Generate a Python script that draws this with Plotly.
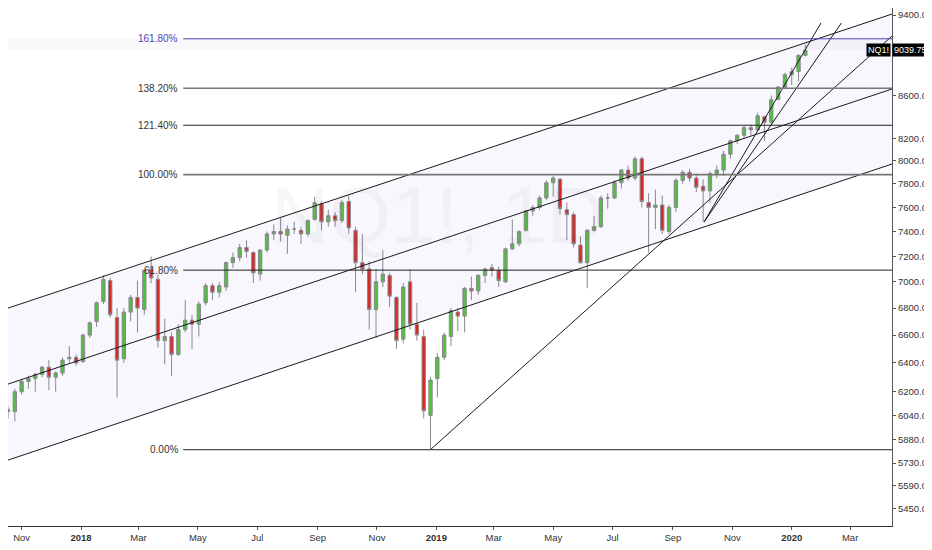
import numpy as np
import pandas as pd
import plotly.graph_objects as go

# NQ1! weekly bars, weeks starting Monday
week_start = pd.date_range("2017-10-09", "2020-01-13", freq="W-MON")

open_ = [6060, 6080, 6065, 6200, 6270, 6290, 6320, 6370, 6300, 6330, 6430, 6440,
         6410, 6600, 6700, 6850, 7010, 6730, 6430, 6770, 6880, 6790, 7100, 7020, 6560,
         6590, 6460, 6640, 6710, 6680, 6840, 6970, 6920, 6960, 7150, 7190, 7270, 7230,
         7060, 7250, 7380, 7400, 7370, 7420, 7410, 7380, 7500, 7630, 7480, 7530, 7490,
         7650, 7410, 7150, 7100, 6790, 7000, 7050, 6880, 6570, 7000, 6680, 6590, 6040, 6290,
         6440, 6590, 6770, 6740, 6950, 6930, 7050, 7110, 7090, 7000, 7260, 7300,
         7410, 7570, 7600, 7680, 7810, 7840, 7580, 7540, 7290, 7150, 7410, 7440, 7680,
         7680, 7810, 7920, 7850, 8020, 7640, 7600, 7620, 7400, 7600, 7830, 7900, 7850, 7780,
         7740, 7890, 7920, 8060, 8180, 8230, 8300, 8280, 8400, 8350, 8560, 8680, 8800,
         8830, 8990]
high = [6110, 6100, 6220, 6290, 6310, 6330, 6380, 6420, 6340, 6440, 6520, 6460,
        6610, 6700, 6850, 7050, 7030, 6800, 6800, 6900, 7010, 7100, 7200, 7060, 6720,
        6620, 6680, 6860, 6750, 6850, 6990, 6990, 7000, 7160, 7230, 7300, 7330, 7240,
        7260, 7400, 7460, 7510, 7450, 7480, 7440, 7500, 7690, 7650, 7580, 7560, 7660,
        7700, 7440, 7380, 7160, 7100, 7250, 7070, 6890, 6990, 7100, 6840, 6640, 6300, 6470,
        6620, 6800, 6800, 6960, 7040, 7060, 7110, 7140, 7120, 7270, 7500, 7410,
        7580, 7620, 7700, 7830, 7870, 7850, 7640, 7560, 7360, 7420, 7530, 7700, 7720,
        7830, 7930, 7960, 8040, 8040, 7720, 7750, 7700, 7620, 7850, 7920, 7930, 7880, 7840,
        7910, 7960, 8090, 8190, 8240, 8320, 8330, 8440, 8410, 8600, 8690, 8820, 8870,
        9000, 9095]
low = [6040, 6020, 6000, 6180, 6220, 6200, 6300, 6210, 6200, 6310, 6400, 6380,
       6400, 6580, 6660, 6830, 6730, 6160, 6400, 6700, 6620, 6750, 6990, 6510, 6390,
       6310, 6450, 6620, 6500, 6590, 6820, 6860, 6880, 6930, 7110, 7160, 7190, 6990,
       7010, 7230, 7330, 7320, 7220, 7380, 7300, 7360, 7490, 7410, 7440, 7440, 7470,
       7380, 6920, 7060, 6640, 6580, 6960, 6810, 6500, 6540, 6640, 6560, 6020, 5820, 6160,
       6420, 6520, 6630, 6620, 6860, 6900, 6990, 7040, 6960, 6990, 7250, 7280,
       7400, 7530, 7580, 7660, 7690, 7540, 7330, 7270, 7140, 6950, 7400, 7430, 7590,
       7670, 7760, 7830, 7830, 7600, 7230, 7420, 7380, 7380, 7560, 7800, 7820, 7730, 7480,
       7640, 7850, 7870, 8020, 8150, 8200, 8230, 8270, 8180, 8330, 8560, 8670, 8700,
       8740, 8980]
close = [6080, 6065, 6200, 6270, 6290, 6320, 6370, 6300, 6330, 6420, 6440, 6400,
         6600, 6690, 6840, 7020, 6750, 6420, 6770, 6880, 6800, 7090, 7030, 6560, 6590,
         6460, 6640, 6710, 6680, 6830, 6970, 6920, 6970, 7150, 7190, 7270, 7240, 7070,
         7250, 7380, 7400, 7380, 7420, 7420, 7380, 7490, 7640, 7480, 7530, 7490, 7640,
         7430, 7150, 7100, 6790, 7000, 7060, 6890, 6560, 6960, 6680, 6600, 6070, 6280, 6440,
         6600, 6780, 6740, 6950, 6930, 7050, 7100, 7090, 7010, 7260, 7300, 7400,
         7570, 7600, 7680, 7810, 7850, 7590, 7540, 7300, 7150, 7410, 7440, 7680, 7680,
         7810, 7920, 7850, 8020, 7650, 7600, 7620, 7410, 7600, 7830, 7900, 7850, 7770, 7740,
         7890, 7920, 8060, 8180, 8230, 8300, 8280, 8410, 8350, 8560, 8680, 8800, 8830,
         8990, 9039.75]
last_price = 9039.75

# fib retracement (Dec-2018 low -> 100% level)
fib_low = 5815
fib_high = 7880
fib_ratios = [0.0, 0.618, 1.0, 1.214, 1.382, 1.618]
fib_text = ["0.00%", "61.80%", "100.00%", "121.40%", "138.20%", "161.80%"]
fib_colors = ["#222222", "#222222", "#777777", "#222222", "#777777", "#4a45b8"]
fib_start = "2018-04-16"

# parallel channel
chan_dates = ["2017-10-09", "2020-04-13"]
chan_upper = [6778, 9410]
chan_mid = [6232, 8662]
chan_lower = [5730, 7973]

# trend lines
dec_low_dates = ["2018-12-26", "2020-04-13"]
dec_low_prices = [5816, 9184]
oct_low_dates_a = ["2019-10-03", "2020-01-31"]
oct_low_dates_b = ["2019-10-03", "2020-02-21"]
oct_low_prices = [7479, 9317]

price_ticks = [5450, 5590, 5730, 5880, 6040, 6200, 6400, 6600, 6800, 7000,
               7200, 7400, 7600, 7800, 8000, 8200, 8600, 9400]
month_ticks = pd.date_range("2017-11-01", "2020-03-01", freq="2MS")

# page has an 8px body margin, so the visible range starts a bit later
x_range = ["2017-10-18", "2020-04-13"]
y_range = [5345, 9473]

font = "Liberation Sans Narrow, Liberation Sans, sans-serif"
fig = go.Figure()

# channel background
fig.add_trace(go.Scatter(
    x=[chan_dates[0], chan_dates[1], chan_dates[1], chan_dates[0]],
    y=[chan_upper[0], chan_upper[1], chan_lower[1], chan_lower[0]],
    fill="toself", fillcolor="rgba(110,110,215,0.055)", line=dict(width=0),
    mode="lines", hoverinfo="skip", showlegend=False))

# light band under 161.8%
fib_vals = [fib_low + r * (fib_high - fib_low) for r in fib_ratios]
fig.add_trace(go.Scatter(
    x=[chan_dates[0], x_range[1], x_range[1], chan_dates[0]],
    y=[fib_vals[-1], fib_vals[-1], last_price, last_price],
    fill="toself", fillcolor="rgba(0,0,0,0.025)", line=dict(width=0),
    mode="lines", hoverinfo="skip", showlegend=False))

for ys in (chan_upper, chan_mid, chan_lower):
    fig.add_trace(go.Scatter(x=chan_dates, y=ys, mode="lines",
                             line=dict(color="#1a1a1a", width=1),
                             hoverinfo="skip", showlegend=False))

for xs, ys in ((dec_low_dates, dec_low_prices), (oct_low_dates_a, oct_low_prices),
               (oct_low_dates_b, oct_low_prices)):
    fig.add_trace(go.Scatter(x=xs, y=ys, mode="lines",
                             line=dict(color="#1a1a1a", width=1),
                             hoverinfo="skip", showlegend=False))

for v, txt, col in zip(fib_vals, fib_text, fib_colors):
    w = 1.6 if col == "#777777" else 1
    fig.add_trace(go.Scatter(x=[fib_start, x_range[1]], y=[v, v], mode="lines",
                             line=dict(color=col, width=w),
                             hoverinfo="skip", showlegend=False))
    fig.add_annotation(x=fib_start, y=np.log10(v), text=txt, showarrow=False,
                       xanchor="right", xshift=-3, yanchor="middle",
                       font=dict(family=font, size=10,
                                 color="#4a45b8" if txt == "161.80%" else "#333333"))

fig.add_trace(go.Candlestick(
    x=week_start + pd.Timedelta(days=2),
    open=open_, high=high, low=low, close=close,
    increasing=dict(fillcolor="#52c43a", line=dict(color="#8a8a8a", width=1)),
    decreasing=dict(fillcolor="#e0241c", line=dict(color="#8a8a8a", width=1)),
    whiskerwidth=0, showlegend=False))

# watermark
fig.add_annotation(x=0.486, y=0.60, xref="paper", yref="paper", text="NQ1!, 1D",
                   showarrow=False, font=dict(family=font, size=80,
                                              color="rgba(0,0,0,0.03)"))

# last price labels
fig.add_annotation(x=1, xref="paper", y=np.log10(last_price), text="9039.75",
                   showarrow=False, xanchor="left", bgcolor="#000000",
                   font=dict(family=font, size=9, color="white"), borderpad=1)
fig.add_annotation(x=1, xref="paper", y=np.log10(last_price), text="NQ1!",
                   showarrow=False, xanchor="right", xshift=-1, bgcolor="#000000",
                   font=dict(family=font, size=9, color="white"), borderpad=1)

tick_text = []
for d in month_ticks:
    if d.month == 1:
        tick_text.append("<b>%d</b>" % d.year)
    else:
        tick_text.append(d.strftime("%b"))

fig.update_layout(
    width=924, height=542,
    margin=dict(l=0, r=35, t=0, b=24),
    plot_bgcolor="white", paper_bgcolor="white",
    font=dict(family=font, size=9.5, color="#333333"),
    xaxis=dict(type="date", range=x_range, rangeslider=dict(visible=False),
               showgrid=False, zeroline=False, showline=True, linecolor="#333333",
               tickvals=list(month_ticks), ticktext=tick_text,
               ticks="outside", ticklen=3, tickcolor="#555555"),
    yaxis=dict(type="log", range=[np.log10(y_range[0]), np.log10(y_range[1])],
               side="right", showgrid=False, zeroline=False, showline=True,
               linecolor="#555555", tickvals=price_ticks,
               ticktext=["%.2f" % t for t in price_ticks],
               ticks="outside", ticklen=3, tickcolor="#555555"),
)

fig.write_html("out.html")
